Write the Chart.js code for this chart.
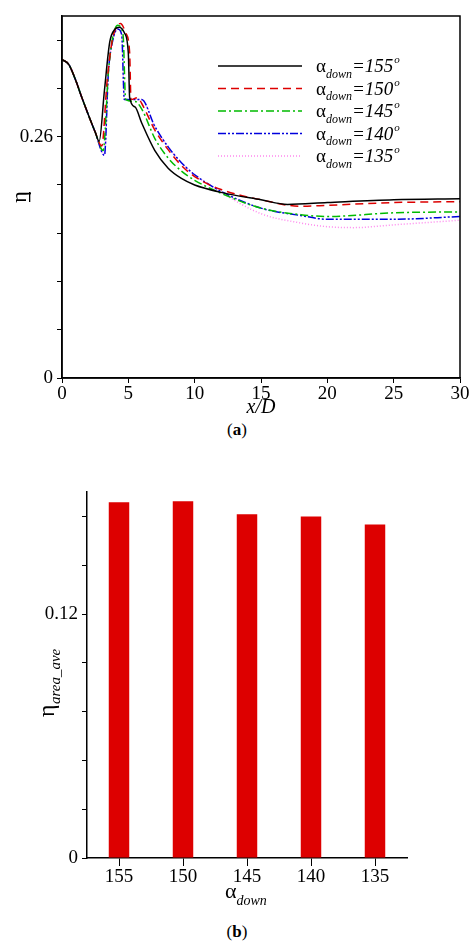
<!DOCTYPE html>
<html lang="en">
<head>
  <meta charset="UTF-8" />
  <title>Film cooling effectiveness</title>
  <script src="https://cdn.jsdelivr.net/npm/chart.js"></script>
  <style>
    body { margin: 0; background: #fff; width: 474px; height: 951px; position: relative; font-family: "Liberation Serif", serif; }
    .box { position: absolute; left: 0; width: 474px; }
    .cap { position: absolute; width: 474px; text-align: center; font-size: 17px; }
  </style>
</head>
<body>
  <div class="box" style="top:0;height:420px"><canvas id="lineChart"></canvas></div>
  <div class="cap" style="top:420px">(<b>a</b>)</div>
  <div class="box" style="top:470px;height:440px"><canvas id="barChart"></canvas></div>
  <div class="cap" style="top:922px">(<b>b</b>)</div>

  <script>
    // Line chart data (a)
    const x155 = [0,0.5,1,1.5,2,2.5,2.8,3.2,3.6,4,4.3,4.7,5.0,5.1,5.5,6,7,8,9,10,12,15,17,20,25,30];
    const y155 = [0.343,0.338,0.322,0.302,0.283,0.265,0.255,0.31,0.362,0.376,0.378,0.372,0.35,0.302,0.292,0.275,0.245,0.226,0.215,0.208,0.2,0.192,0.187,0.189,0.192,0.193];
    const x150 = [0,0.5,1,1.5,2,2.5,3.0,3.4,3.8,4.1,4.4,4.8,5.1,5.2,5.7,6,7,8,9,10,12,15,18,20,25,30];
    const y150 = [0.343,0.338,0.322,0.302,0.283,0.265,0.25,0.32,0.365,0.378,0.382,0.372,0.35,0.30,0.302,0.296,0.267,0.246,0.229,0.217,0.203,0.192,0.185,0.186,0.189,0.19];
    const x145 = [0,0.5,1,1.5,2,2.5,3.1,3.5,3.8,4.2,4.6,4.8,5.5,6,7,8,9,10,12,15,18,20,25,30];
    const y145 = [0.343,0.338,0.322,0.302,0.283,0.265,0.245,0.33,0.365,0.38,0.37,0.30,0.298,0.29,0.258,0.237,0.223,0.213,0.199,0.183,0.176,0.174,0.178,0.179];
    const x140 = [0,0.5,1,1.5,2,2.5,3.2,3.5,3.8,4.2,4.5,4.7,5.5,6,7,8,9,10,12,15,18,20,25,30];
    const y140 = [0.343,0.338,0.322,0.302,0.283,0.265,0.24,0.33,0.362,0.376,0.37,0.30,0.30,0.30,0.271,0.249,0.232,0.219,0.201,0.183,0.175,0.171,0.171,0.174];
    const x135 = [0,0.5,1,1.5,2,2.5,3.2,3.5,3.8,4.2,4.5,4.7,5.5,6,7,8,9,10,12,15,18,20,22,25,30];
    const y135 = [0.343,0.338,0.322,0.302,0.283,0.265,0.24,0.33,0.362,0.376,0.37,0.30,0.30,0.30,0.271,0.249,0.232,0.219,0.2,0.177,0.167,0.163,0.162,0.165,0.17];

    // Bar chart data (b)
    const angleLabels = ["155", "150", "145", "140", "135"];
    const areaAve = [0.175, 0.1755, 0.169, 0.168, 0.164];

    const serif = "'Liberation Serif', serif";

    function pts(xs, ys) { return xs.map((x, i) => ({ x: x, y: ys[i] })); }

    function series(angle, xs, ys, color, dash) {
      return {
        label: angle, data: pts(xs, ys), borderColor: color, borderDash: dash,
        borderWidth: 1.5, pointRadius: 0, showLine: true, cubicInterpolationMode: "monotone"
      };
    }

    // draws "α" + subscript "down" + rest
    function drawAlpha(ctx, x, y, size, rest) {
      ctx.textBaseline = "alphabetic";
      ctx.font = size + "px " + serif;
      ctx.fillText("α", x, y);
      x += ctx.measureText("α").width;
      ctx.font = "italic " + Math.round(size * 0.65) + "px " + serif;
      ctx.fillText("down", x, y + size * 0.3);
      x += ctx.measureText("down").width;
      if (rest) {
        ctx.font = "italic " + size + "px " + serif;
        ctx.fillText(rest, x, y);
        x += ctx.measureText(rest).width;
        ctx.font = "italic " + Math.round(size * 0.6) + "px " + serif;
        ctx.fillText("o", x + 1, y - size * 0.45);
      }
    }

    const lineDecor = {
      id: "lineDecor",
      afterDraw(chart) {
        const ctx = chart.ctx, a = chart.chartArea;
        ctx.save();
        ctx.strokeStyle = "#000"; ctx.lineWidth = 1.5;
        ctx.strokeRect(a.left, a.top, a.right - a.left, a.bottom - a.top);
        // legend
        chart.data.datasets.forEach((d, i) => {
          const y = 66 + i * 22.5;
          ctx.beginPath();
          ctx.setLineDash(d.borderDash || []);
          ctx.strokeStyle = d.borderColor; ctx.lineWidth = 1.5;
          ctx.moveTo(218, y); ctx.lineTo(302, y); ctx.stroke();
          ctx.setLineDash([]);
          ctx.fillStyle = "#000";
          drawAlpha(ctx, 316, y + 6, 19, "=" + d.label);
        });
        // y title: eta with bar
        ctx.translate(20, 197); ctx.rotate(-Math.PI / 2);
        ctx.font = "22px " + serif; ctx.textAlign = "center"; ctx.textBaseline = "middle";
        ctx.fillText("η", 0, 0);
        ctx.fillRect(-5, 9, 10, 1.3);
        ctx.restore();
      }
    };

    new Chart(document.getElementById("lineChart"), {
      type: "scatter",
      data: {
        datasets: [
          series("155", x155, y155, "#000000", []),
          series("150", x150, y150, "#dd0000", [8, 5]),
          series("145", x145, y145, "#00bb00", [8, 3, 2, 3]),
          series("140", x140, y140, "#0000dd", [8, 2, 2, 2, 2, 2]),
          series("135", x135, y135, "#ff88ee", [1, 2])
        ]
      },
      options: {
        animation: false, responsive: true, maintainAspectRatio: false,
        layout: { padding: { top: 16, right: 14, left: 0, bottom: 0 } },
        plugins: { legend: { display: false }, tooltip: { enabled: false } },
        scales: {
          x: {
            min: 0, max: 30,
            afterFit: s => { s.height = 42; },
            ticks: { stepSize: 5, color: "#000", font: { family: serif, size: 19 }, padding: 0, maxRotation: 0 },
            grid: { drawOnChartArea: false, color: "#000", tickLength: 5 },
            border: { color: "#000", width: 1.5 },
            title: { display: true, text: "x/D", color: "#000", font: { family: serif, size: 20, style: "italic" }, padding: { top: 0, bottom: 0 } }
          },
          y: {
            min: 0, max: 0.39,
            afterFit: s => { s.width = 62; },
            afterBuildTicks: s => { s.ticks = Array.from({ length: 16 }, (_, i) => ({ value: +(i * 0.026).toFixed(3) })); },
            ticks: {
              color: "#000", font: { family: serif, size: 19 }, padding: 4,
              callback: v => (Math.round(v * 1000) % 130 === 0) ? (v === 0 ? "0" : v.toFixed(2)) : ""
            },
            grid: { drawOnChartArea: false, color: "#000", tickLength: 5 },
            border: { color: "#000", width: 1.5 }
          }
        }
      },
      plugins: [lineDecor]
    });

    const barDecor = {
      id: "barDecor",
      afterDraw(chart) {
        const ctx = chart.ctx, a = chart.chartArea;
        ctx.save();
        ctx.fillStyle = "#000";
        ctx.textAlign = "left";
        drawAlpha(ctx, (a.left + a.right) / 2 - 22, 428, 22, "");
        ctx.translate(48, 205); ctx.rotate(-Math.PI / 2);
        ctx.font = "24px " + serif; ctx.textBaseline = "alphabetic";
        ctx.fillText("η", -42, 6);
        ctx.font = "italic 15px " + serif;
        ctx.fillText("area_ave", -29, 12);
        ctx.restore();
      }
    };

    new Chart(document.getElementById("barChart"), {
      type: "bar",
      data: {
        labels: angleLabels,
        datasets: [{ data: areaAve, backgroundColor: "#dd0000", barPercentage: 0.32, categoryPercentage: 1 }]
      },
      options: {
        animation: false, responsive: true, maintainAspectRatio: false,
        layout: { padding: { top: 22, right: 67, left: 0, bottom: 0 } },
        plugins: { legend: { display: false }, tooltip: { enabled: false } },
        scales: {
          x: {
            afterFit: s => { s.height = 52; },
            ticks: { color: "#000", font: { family: serif, size: 19 }, padding: 0 },
            grid: { drawOnChartArea: false, color: "#000", tickLength: 8, offset: false },
            border: { color: "#000", width: 1.5 }
          },
          y: {
            min: 0, max: 0.18,
            afterFit: s => { s.width = 87; },
            afterBuildTicks: s => { s.ticks = Array.from({ length: 16 }, (_, i) => ({ value: +(i * 0.012).toFixed(3) })); },
            ticks: {
              color: "#000", font: { family: serif, size: 19 }, padding: 4,
              callback: v => (Math.round(v * 1000) % 60 === 0) ? (v === 0 ? "0" : v.toFixed(2)) : ""
            },
            grid: { drawOnChartArea: false, color: "#000", tickLength: 5 },
            border: { color: "#000", width: 1.5 }
          }
        }
      },
      plugins: [barDecor]
    });
  </script>
</body>
</html>
